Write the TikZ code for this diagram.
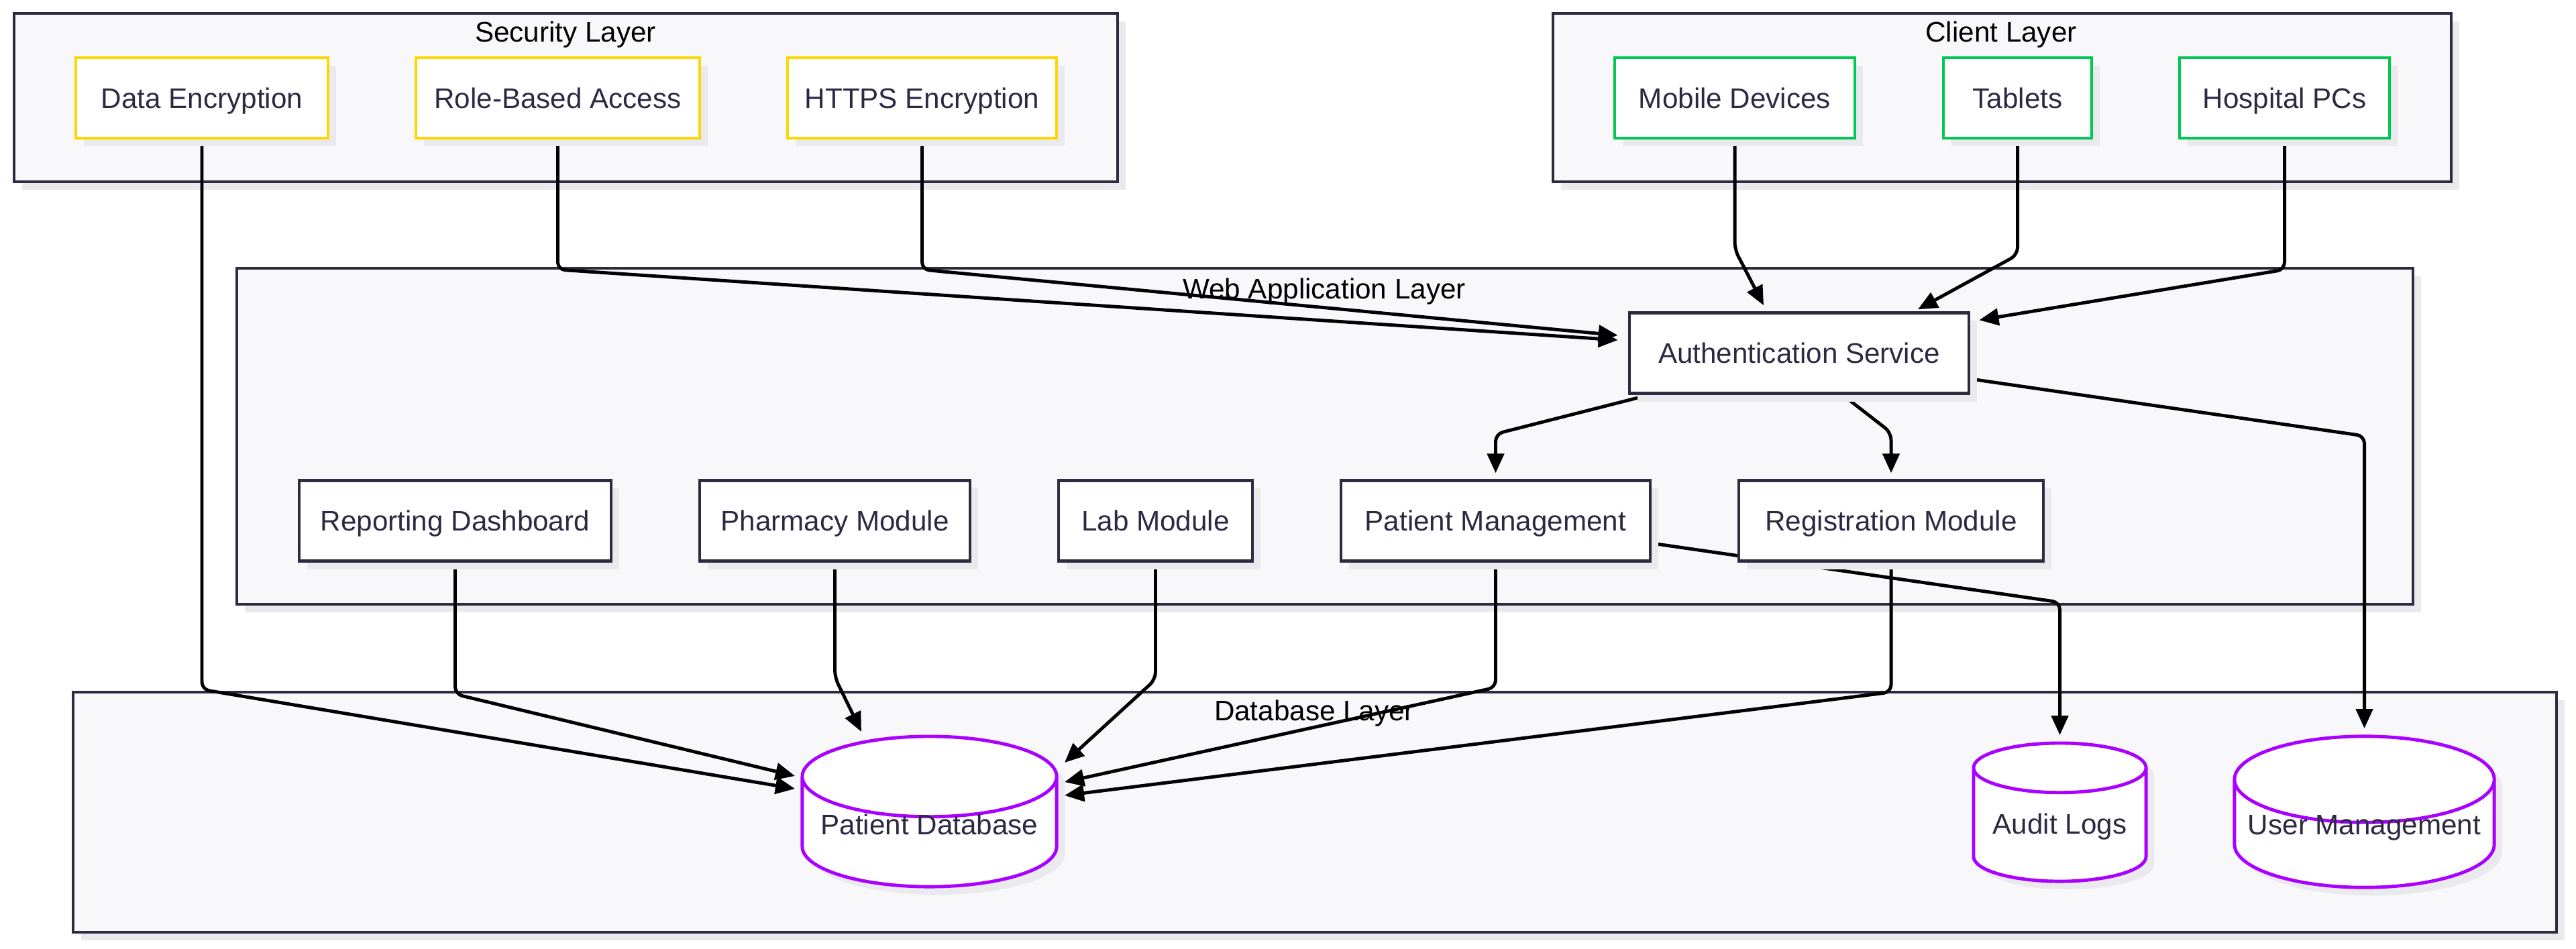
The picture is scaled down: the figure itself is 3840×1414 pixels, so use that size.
\documentclass[tikz,border=0pt]{standalone}
\usepackage{fontspec}
\setmainfont{Liberation Sans}
\usetikzlibrary{arrows.meta,calc,shapes.geometric,shadows}

\definecolor{layerfill}{RGB}{248,248,250}
\definecolor{layerline}{RGB}{45,43,66}
\definecolor{boxtext}{RGB}{45,41,66}
\definecolor{secline}{RGB}{255,214,0}
\definecolor{cliline}{RGB}{0,200,83}
\definecolor{storeline}{RGB}{170,0,255}
\definecolor{shade}{RGB}{233,233,238}

\pgfdeclarelayer{back}
\pgfdeclarelayer{wires}
\pgfsetlayers{back,wires,main}

\tikzset{
  shade box/.style={drop shadow={shadow xshift=0.12cm, shadow yshift=-0.12cm, fill=shade, opacity=1}},
  layer/.style={draw=layerline, fill=layerfill, line width=1.15pt, shade box},
  layertitle/.style={font=\fontsize{12}{14}\selectfont, text=black, text height=8.6pt, text depth=0pt, inner sep=0pt},
  box/.style={rectangle, draw=layerline, fill=white, line width=1.25pt, minimum height=1.2cm, inner sep=0pt, text=boxtext, font=\fontsize{12}{14}\selectfont, text height=8.6pt, text depth=0pt, shade box},
  secbox/.style={box, draw=secline},
  clibox/.style={box, draw=cliline},
  store/.style={shape=cylinder, shape border rotate=90, aspect=0.37, anchor=shape center, draw=storeline, fill=white, line width=1.4pt, inner sep=0pt, text=boxtext, font=\fontsize{12}{14}\selectfont, text height=8.6pt, text depth=0pt, shade box},
  flow/.style={draw=black, line width=1.4pt, rounded corners=0.11cm, -{Triangle[length=0.29cm,width=0.25cm]}}
}

\begin{document}
\begin{tikzpicture}[x=0.01cm, y=-0.01cm]
    \useasboundingbox (0,0) rectangle (3840,1414);

    % layers
    \begin{pgfonlayer}{back}
        \draw[layer] (21,20) rectangle (1666,271);
        \draw[layer] (2315,20) rectangle (3654,271);
        \draw[layer] (353,400) rectangle (3597,901);
        \draw[layer] (109,1032) rectangle (3811,1390);
        \node[layertitle] (sectitle) at (843,47) {Security Layer};
        \node[layertitle] (clititle) at (2983,47) {Client Layer};
        \node[layertitle] (webtitle) at (1974,430) {Web Application Layer};
        \node[layertitle] (dbtitle) at (1959,1059) {Database Layer};
    \end{pgfonlayer}

    \node[secbox, minimum width=3.76cm] (de) at (301,146) {Data Encryption};
    \node[secbox, minimum width=4.23cm] (rba) at (831.5,146) {Role-Based Access};
    \node[secbox, minimum width=4.01cm] (https) at (1374.5,146) {HTTPS Encryption};

    \node[clibox, minimum width=3.58cm] (mob) at (2586,146) {Mobile Devices};
    \node[clibox, minimum width=2.21cm] (tab) at (3007.5,146) {Tablets};
    \node[clibox, minimum width=3.13cm] (hpc) at (3405.5,146) {Hospital PCs};

    \node[box, minimum width=5.06cm] (auth) at (2682,526.5) {Authentication Service};
    \node[box, minimum width=4.65cm] (rep) at (678.5,776.5) {Reporting Dashboard};
    \node[box, minimum width=4.03cm] (pha) at (1244.5,776.5) {Pharmacy Module};
    \node[box, minimum width=2.89cm] (lab) at (1722.5,776.5) {Lab Module};
    \node[box, minimum width=4.61cm] (pm) at (2229.5,776.5) {Patient Management};
    \node[box, minimum width=4.54cm] (reg) at (2819,776.5) {Registration Module};

    \node[store, minimum width=3.79cm, minimum height=2.24cm] (pdb) at (1385.5,1210) {\raisebox{3.4pt}{Patient Database}};
    \node[store, minimum width=2.57cm, minimum height=2.06cm] (audit) at (3070.5,1211) {\raisebox{0.6pt}{Audit Logs}};
    \node[store, minimum width=3.87cm, minimum height=2.25cm] (um) at (3524.5,1210.5) {\raisebox{4pt}{User Management}};

    \begin{pgfonlayer}{wires}
        \draw[flow] (rba) -- (rba |- 0,402) -- ($(auth.west)+(-15,-19.5)$);
        \draw[flow] (https) -- (https |- 0,402) -- ($(auth.west)+(-15,-26.5)$);
        \draw[flow] (mob) -- (mob |- 0,372) -- ($(auth.north)+(-53,-9)$);
        \draw[flow] (tab) -- (tab |- 0,380) -- ($(auth.north)+(177,-3)$);
        \draw[flow] (hpc) -- (hpc |- 0,402) -- ($(auth.north east)+(13,13)$);

        \draw[flow] ($(auth.south west)+(32,0)$) -- (pm |- 0,647) -- ($(pm.north)+(0,-9)$);
        \draw[flow] ($(auth.south west)+(320,0)$) -- (reg |- 0,645) -- ($(reg.north)+(0,-9)$);
        \draw[flow] ($(auth.east)+(0,38.5)$) -- (um |- 0,650) -- ($(um.shape center)+(0,-124.5)$);
        \draw[flow] ($(pm.east)+(0,33.5)$) -- (audit |- 0,898) -- ($(audit.shape center)+(0,-115)$);

        \draw[flow] (de) -- (de |- 0,1028) -- ($(pdb.shape center)+(-200.5,-34)$);
        \draw[flow] (rep) -- (rep |- 0,1035) -- ($(pdb.shape center)+(-200.5,-53)$);
        \draw[flow] (pha) -- (pha |- 0,1010) -- ($(pdb.shape center)+(-101.5,-119)$);
        \draw[flow] (lab) -- (lab |- 0,1013) -- ($(pdb.shape center)+(201.5,-73)$);
        \draw[flow] (pm) -- (pm |- 0,1025) -- ($(pdb.shape center)+(201.5,-44)$);
        \draw[flow] (reg) -- (reg |- 0,1032) -- ($(pdb.shape center)+(201.5,-24)$);
    \end{pgfonlayer}

\end{tikzpicture}
\end{document}
